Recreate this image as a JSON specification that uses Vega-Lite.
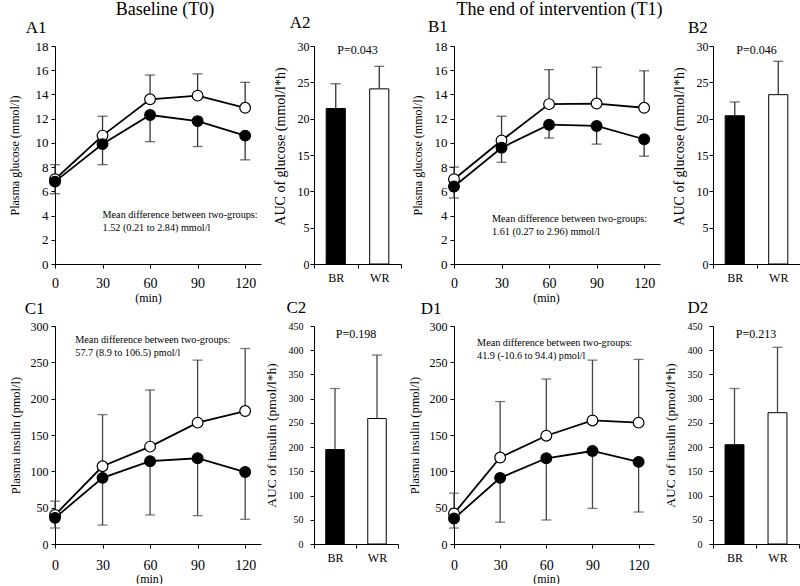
{
  "$schema": "https://vega.github.io/schema/vega-lite/v6.json",
  "padding": {"left": 8, "top": 0, "right": 0, "bottom": 0},
  "columns": 4,
  "bounds": "flush",
  "align": "each",
  "center": true,
  "spacing": {"row": 62, "column": 53},
  "datasets": {
    "profiles": [
      {"panel": "A1", "group": "WR", "time": 0, "mean": 7.0, "err": 8.2},
      {"panel": "A1", "group": "WR", "time": 30, "mean": 10.6, "err": 12.2},
      {"panel": "A1", "group": "WR", "time": 60, "mean": 13.6, "err": 15.6},
      {"panel": "A1", "group": "WR", "time": 90, "mean": 13.9, "err": 15.7},
      {"panel": "A1", "group": "WR", "time": 120, "mean": 12.9, "err": 15.0},
      {"panel": "A1", "group": "BR", "time": 0, "mean": 6.8, "err": 5.8},
      {"panel": "A1", "group": "BR", "time": 30, "mean": 9.9, "err": 8.2},
      {"panel": "A1", "group": "BR", "time": 60, "mean": 12.3, "err": 10.1},
      {"panel": "A1", "group": "BR", "time": 90, "mean": 11.8, "err": 9.7},
      {"panel": "A1", "group": "BR", "time": 120, "mean": 10.6, "err": 8.6},
      {"panel": "B1", "group": "WR", "time": 0, "mean": 7.0, "err": 8.0},
      {"panel": "B1", "group": "WR", "time": 30, "mean": 10.2, "err": 12.2},
      {"panel": "B1", "group": "WR", "time": 60, "mean": 13.2, "err": 16.05},
      {"panel": "B1", "group": "WR", "time": 90, "mean": 13.25, "err": 16.25},
      {"panel": "B1", "group": "WR", "time": 120, "mean": 12.9, "err": 15.95},
      {"panel": "B1", "group": "BR", "time": 0, "mean": 6.4, "err": 5.45},
      {"panel": "B1", "group": "BR", "time": 30, "mean": 9.6, "err": 8.4},
      {"panel": "B1", "group": "BR", "time": 60, "mean": 11.5, "err": 10.4},
      {"panel": "B1", "group": "BR", "time": 90, "mean": 11.4, "err": 9.9},
      {"panel": "B1", "group": "BR", "time": 120, "mean": 10.3, "err": 8.9},
      {"panel": "C1", "group": "WR", "time": 0, "mean": 40, "err": 59},
      {"panel": "C1", "group": "WR", "time": 30, "mean": 107, "err": 178},
      {"panel": "C1", "group": "WR", "time": 60, "mean": 134, "err": 212},
      {"panel": "C1", "group": "WR", "time": 90, "mean": 167, "err": 253},
      {"panel": "C1", "group": "WR", "time": 120, "mean": 183, "err": 269},
      {"panel": "C1", "group": "BR", "time": 0, "mean": 36, "err": 22},
      {"panel": "C1", "group": "BR", "time": 30, "mean": 91, "err": 26},
      {"panel": "C1", "group": "BR", "time": 60, "mean": 114, "err": 40},
      {"panel": "C1", "group": "BR", "time": 90, "mean": 118, "err": 39},
      {"panel": "C1", "group": "BR", "time": 120, "mean": 99, "err": 34},
      {"panel": "D1", "group": "WR", "time": 0, "mean": 42, "err": 70},
      {"panel": "D1", "group": "WR", "time": 30, "mean": 119, "err": 196},
      {"panel": "D1", "group": "WR", "time": 60, "mean": 149, "err": 227},
      {"panel": "D1", "group": "WR", "time": 90, "mean": 170, "err": 253},
      {"panel": "D1", "group": "WR", "time": 120, "mean": 167, "err": 254},
      {"panel": "D1", "group": "BR", "time": 0, "mean": 35, "err": 22},
      {"panel": "D1", "group": "BR", "time": 30, "mean": 91, "err": 30},
      {"panel": "D1", "group": "BR", "time": 60, "mean": 118, "err": 33},
      {"panel": "D1", "group": "BR", "time": 90, "mean": 128, "err": 49},
      {"panel": "D1", "group": "BR", "time": 120, "mean": 113, "err": 44}
    ],
    "auc": [
      {"panel": "A2", "group": "BR", "mean": 21.4, "err": 24.8},
      {"panel": "A2", "group": "WR", "mean": 24.1, "err": 27.2},
      {"panel": "B2", "group": "BR", "mean": 20.4, "err": 22.3},
      {"panel": "B2", "group": "WR", "mean": 23.3, "err": 27.9},
      {"panel": "C2", "group": "BR", "mean": 195, "err": 321},
      {"panel": "C2", "group": "WR", "mean": 259, "err": 390},
      {"panel": "D2", "group": "BR", "mean": 205, "err": 321},
      {"panel": "D2", "group": "WR", "mean": 271, "err": 406}
    ]
  },
  "concat": [
    {
      "width": 206, "height": 218,
      "data": {"name": "profiles"},
      "transform": [{"filter": "datum.panel == 'A1'"}],
      "layer": [
        {"mark": {"type": "rule", "color": "#333333", "strokeWidth": 1.3},
         "encoding": {
           "x": {"field": "time", "type": "quantitative", "scale": {"domain": [0, 130]}, "axis": {"values": [0, 30, 60, 90, 120], "title": "(min)", "titleFontSize": 12, "titleX": 93, "titlePadding": 2, "labelFontSize": 14, "labelPadding": 8}},
           "y": {"field": "mean", "type": "quantitative", "scale": {"domain": [0, 18]}, "axis": {"tickCount": 9, "title": "Plasma glucose (mmol/l)", "titleFontSize": 12, "titlePadding": 14, "labelFontSize": 13, "labelPadding": 3}},
           "y2": {"field": "err"}}},
        {"mark": {"type": "tick", "orient": "horizontal", "color": "#333333", "size": 10, "thickness": 1.3},
         "encoding": {"x": {"field": "time", "type": "quantitative"}, "y": {"field": "err", "type": "quantitative"}}},
        {"mark": {"type": "line", "color": "black", "strokeWidth": 1.8},
         "encoding": {"x": {"field": "time", "type": "quantitative"}, "y": {"field": "mean", "type": "quantitative"}, "detail": {"field": "group"}}},
        {"mark": {"type": "point", "filled": true, "size": 115, "stroke": "black", "strokeWidth": 1.2, "opacity": 1},
         "encoding": {"x": {"field": "time", "type": "quantitative"}, "y": {"field": "mean", "type": "quantitative"}, "fill": {"field": "group", "type": "nominal", "scale": {"domain": ["BR", "WR"], "range": ["black", "white"]}, "legend": null}}},
        {"data": {"values": [{"note": "Mean difference between two-groups:\n1.52 (0.21 to 2.84) mmol/l"}]},
         "mark": {"type": "text", "align": "left", "baseline": "middle", "fontSize": 10.2, "lineBreak": "\n", "lineHeight": 13},
         "encoding": {"x": {"datum": 30}, "y": {"datum": 4.07}, "text": {"field": "note"}}},
        {"data": {"values": [{"header": "Baseline (T0)"}]},
         "mark": {"type": "text", "align": "center", "baseline": "alphabetic", "fontSize": 18},
         "encoding": {"x": {"datum": 69.4}, "y": {"datum": 20.56}, "text": {"field": "header"}}},
        {"data": {"values": [{"label": "A1"}]},
         "mark": {"type": "text", "align": "left", "baseline": "alphabetic", "fontSize": 17},
         "encoding": {"x": {"datum": -18.5}, "y": {"datum": 19.07}, "text": {"field": "label"}}}
      ]
    },
    {
      "width": 87, "height": 218,
      "data": {"name": "auc"},
      "transform": [{"filter": "datum.panel == 'A2'"}],
      "layer": [
        {"mark": {"type": "bar", "width": {"band": 0.44}, "stroke": "black", "strokeWidth": 1},
         "encoding": {
           "x": {"field": "group", "type": "nominal", "scale": {"domain": ["BR", "WR"], "paddingInner": 0, "paddingOuter": 0}, "axis": {"title": null, "labelAngle": 0, "tickBand": "extent", "labelFontSize": 12, "labelPadding": 4}},
           "y": {"field": "mean", "type": "quantitative", "scale": {"domain": [0, 30]}, "axis": {"tickCount": 6, "title": "AUC of glucose (mmol/l*h)", "titleFontSize": 14, "titleY": 100, "titlePadding": 9.5, "labelFontSize": 12, "labelPadding": 1}},
           "fill": {"field": "group", "type": "nominal", "scale": {"domain": ["BR", "WR"], "range": ["black", "white"]}, "legend": null}}},
        {"mark": {"type": "rule", "color": "#333333", "strokeWidth": 1.3},
         "encoding": {"x": {"field": "group", "type": "nominal"}, "y": {"field": "mean", "type": "quantitative"}, "y2": {"field": "err"}}},
        {"mark": {"type": "tick", "orient": "horizontal", "color": "#333333", "size": 10, "thickness": 1.3},
         "encoding": {"x": {"field": "group", "type": "nominal"}, "y": {"field": "err", "type": "quantitative"}}},
        {"data": {"values": [{"p": "P=0.043"}]},
         "mark": {"type": "text", "fontSize": 12, "baseline": "middle"},
         "encoding": {"x": {"datum": "BR", "type": "nominal", "bandPosition": 1}, "y": {"datum": 29.5}, "text": {"field": "p"}}},
        {"data": {"values": [{"label": "A2"}]},
         "mark": {"type": "text", "align": "left", "baseline": "alphabetic", "fontSize": 17, "dx": -24.3},
         "encoding": {"x": {"datum": "BR", "type": "nominal", "bandPosition": 0}, "y": {"datum": 32.48}, "text": {"field": "label"}}}
      ]
    },
    {
      "width": 206, "height": 218,
      "data": {"name": "profiles"},
      "transform": [{"filter": "datum.panel == 'B1'"}],
      "layer": [
        {"mark": {"type": "rule", "color": "#333333", "strokeWidth": 1.3},
         "encoding": {
           "x": {"field": "time", "type": "quantitative", "scale": {"domain": [0, 130]}, "axis": {"values": [0, 30, 60, 90, 120], "title": "(min)", "titleFontSize": 12, "titleX": 92, "titlePadding": 2, "labelFontSize": 14, "labelPadding": 8}},
           "y": {"field": "mean", "type": "quantitative", "scale": {"domain": [0, 18]}, "axis": {"tickCount": 9, "title": "Plasma glucose (mmol/l)", "titleFontSize": 12, "titlePadding": 10, "labelFontSize": 13, "labelPadding": 3}},
           "y2": {"field": "err"}}},
        {"mark": {"type": "tick", "orient": "horizontal", "color": "#333333", "size": 10, "thickness": 1.3},
         "encoding": {"x": {"field": "time", "type": "quantitative"}, "y": {"field": "err", "type": "quantitative"}}},
        {"mark": {"type": "line", "color": "black", "strokeWidth": 1.8},
         "encoding": {"x": {"field": "time", "type": "quantitative"}, "y": {"field": "mean", "type": "quantitative"}, "detail": {"field": "group"}}},
        {"mark": {"type": "point", "filled": true, "size": 115, "stroke": "black", "strokeWidth": 1.2, "opacity": 1},
         "encoding": {"x": {"field": "time", "type": "quantitative"}, "y": {"field": "mean", "type": "quantitative"}, "fill": {"field": "group", "type": "nominal", "scale": {"domain": ["BR", "WR"], "range": ["black", "white"]}, "legend": null}}},
        {"data": {"values": [{"note": "Mean difference between two-groups:\n1.61 (0.27 to 2.96) mmol/l"}]},
         "mark": {"type": "text", "align": "left", "baseline": "middle", "fontSize": 10.2, "lineBreak": "\n", "lineHeight": 13},
         "encoding": {"x": {"datum": 24}, "y": {"datum": 3.7}, "text": {"field": "note"}}},
        {"data": {"values": [{"header": "The end of intervention (T1)"}]},
         "mark": {"type": "text", "align": "center", "baseline": "alphabetic", "fontSize": 18},
         "encoding": {"x": {"datum": 66.6}, "y": {"datum": 20.56}, "text": {"field": "header"}}},
        {"data": {"values": [{"label": "B1"}]},
         "mark": {"type": "text", "align": "left", "baseline": "alphabetic", "fontSize": 17},
         "encoding": {"x": {"datum": -16.4}, "y": {"datum": 19.13}, "text": {"field": "label"}}}
      ]
    },
    {
      "width": 87, "height": 218,
      "data": {"name": "auc"},
      "transform": [{"filter": "datum.panel == 'B2'"}],
      "layer": [
        {"mark": {"type": "bar", "width": {"band": 0.44}, "stroke": "black", "strokeWidth": 1},
         "encoding": {
           "x": {"field": "group", "type": "nominal", "scale": {"domain": ["BR", "WR"], "paddingInner": 0, "paddingOuter": 0}, "axis": {"title": null, "labelAngle": 0, "tickBand": "extent", "labelFontSize": 12, "labelPadding": 4}},
           "y": {"field": "mean", "type": "quantitative", "scale": {"domain": [0, 30]}, "axis": {"tickCount": 6, "title": "AUC of glucose (mmol/l*h)", "titleFontSize": 14, "titleY": 100, "titlePadding": 9.5, "labelFontSize": 12, "labelPadding": 1}},
           "fill": {"field": "group", "type": "nominal", "scale": {"domain": ["BR", "WR"], "range": ["black", "white"]}, "legend": null}}},
        {"mark": {"type": "rule", "color": "#333333", "strokeWidth": 1.3},
         "encoding": {"x": {"field": "group", "type": "nominal"}, "y": {"field": "mean", "type": "quantitative"}, "y2": {"field": "err"}}},
        {"mark": {"type": "tick", "orient": "horizontal", "color": "#333333", "size": 10, "thickness": 1.3},
         "encoding": {"x": {"field": "group", "type": "nominal"}, "y": {"field": "err", "type": "quantitative"}}},
        {"data": {"values": [{"p": "P=0.046"}]},
         "mark": {"type": "text", "fontSize": 12, "baseline": "middle"},
         "encoding": {"x": {"datum": "BR", "type": "nominal", "bandPosition": 1}, "y": {"datum": 29.5}, "text": {"field": "p"}}},
        {"data": {"values": [{"label": "B2"}]},
         "mark": {"type": "text", "align": "left", "baseline": "alphabetic", "fontSize": 17, "dx": -25},
         "encoding": {"x": {"datum": "BR", "type": "nominal", "bandPosition": 0}, "y": {"datum": 31.79}, "text": {"field": "label"}}}
      ]
    },
    {
      "width": 206, "height": 218,
      "data": {"name": "profiles"},
      "transform": [{"filter": "datum.panel == 'C1'"}],
      "layer": [
        {"mark": {"type": "rule", "color": "#444444", "strokeWidth": 1.3},
         "encoding": {
           "x": {"field": "time", "type": "quantitative", "scale": {"domain": [0, 130]}, "axis": {"values": [0, 30, 60, 90, 120], "title": "(min)", "titleFontSize": 12, "titleX": 94, "titlePadding": 1, "labelFontSize": 14, "labelPadding": 10}},
           "y": {"field": "mean", "type": "quantitative", "scale": {"domain": [0, 300]}, "axis": {"tickCount": 6, "title": "Plasma insulin (pmol/l)", "titleFontSize": 12.5, "titlePadding": 8, "labelFontSize": 12, "labelPadding": 3}},
           "y2": {"field": "err"}}},
        {"mark": {"type": "tick", "orient": "horizontal", "color": "#444444", "size": 10, "thickness": 1.3},
         "encoding": {"x": {"field": "time", "type": "quantitative"}, "y": {"field": "err", "type": "quantitative"}}},
        {"mark": {"type": "line", "color": "black", "strokeWidth": 1.8},
         "encoding": {"x": {"field": "time", "type": "quantitative"}, "y": {"field": "mean", "type": "quantitative"}, "detail": {"field": "group"}}},
        {"mark": {"type": "point", "filled": true, "size": 115, "stroke": "black", "strokeWidth": 1.2, "opacity": 1},
         "encoding": {"x": {"field": "time", "type": "quantitative"}, "y": {"field": "mean", "type": "quantitative"}, "fill": {"field": "group", "type": "nominal", "scale": {"domain": ["BR", "WR"], "range": ["black", "white"]}, "legend": null}}},
        {"data": {"values": [{"note": "Mean difference between two-groups:\n57.7 (8.9 to 106.5) pmol/l"}]},
         "mark": {"type": "text", "align": "left", "baseline": "middle", "fontSize": 10.2, "lineBreak": "\n", "lineHeight": 13},
         "encoding": {"x": {"datum": 12.8}, "y": {"datum": 281}, "text": {"field": "note"}}},
        {"data": {"values": [{"label": "C1"}]},
         "mark": {"type": "text", "align": "left", "baseline": "alphabetic", "fontSize": 17},
         "encoding": {"x": {"datum": -19.1}, "y": {"datum": 316.9}, "text": {"field": "label"}}}
      ]
    },
    {
      "width": 84, "height": 218,
      "data": {"name": "auc"},
      "transform": [{"filter": "datum.panel == 'C2'"}],
      "layer": [
        {"mark": {"type": "bar", "width": {"band": 0.44}, "stroke": "black", "strokeWidth": 1},
         "encoding": {
           "x": {"field": "group", "type": "nominal", "scale": {"domain": ["BR", "WR"], "paddingInner": 0, "paddingOuter": 0}, "axis": {"title": null, "labelAngle": 0, "tickBand": "extent", "labelFontSize": 12, "labelPadding": 4}},
           "y": {"field": "mean", "type": "quantitative", "scale": {"domain": [0, 450]}, "axis": {"tickCount": 9, "title": "AUC of insulin (pmol/l*h)", "titleFontSize": 13.5, "titlePadding": 9.5, "labelFontSize": 10, "labelPadding": 7}},
           "fill": {"field": "group", "type": "nominal", "scale": {"domain": ["BR", "WR"], "range": ["black", "white"]}, "legend": null}}},
        {"mark": {"type": "rule", "color": "#444444", "strokeWidth": 1.3},
         "encoding": {"x": {"field": "group", "type": "nominal"}, "y": {"field": "mean", "type": "quantitative"}, "y2": {"field": "err"}}},
        {"mark": {"type": "tick", "orient": "horizontal", "color": "#444444", "size": 10, "thickness": 1.3},
         "encoding": {"x": {"field": "group", "type": "nominal"}, "y": {"field": "err", "type": "quantitative"}}},
        {"data": {"values": [{"p": "P=0.198"}]},
         "mark": {"type": "text", "fontSize": 12, "baseline": "middle"},
         "encoding": {"x": {"datum": "BR", "type": "nominal", "bandPosition": 1}, "y": {"datum": 433}, "text": {"field": "p"}}},
        {"data": {"values": [{"label": "C2"}]},
         "mark": {"type": "text", "align": "left", "baseline": "alphabetic", "fontSize": 17, "dx": -27.5},
         "encoding": {"x": {"datum": "BR", "type": "nominal", "bandPosition": 0}, "y": {"datum": 476.8}, "text": {"field": "label"}}}
      ]
    },
    {
      "width": 200, "height": 218,
      "data": {"name": "profiles"},
      "transform": [{"filter": "datum.panel == 'D1'"}],
      "layer": [
        {"mark": {"type": "rule", "color": "#444444", "strokeWidth": 1.3},
         "encoding": {
           "x": {"field": "time", "type": "quantitative", "scale": {"domain": [0, 130]}, "axis": {"values": [0, 30, 60, 90, 120], "title": "(min)", "titleFontSize": 12, "titleX": 92, "titlePadding": 1, "labelFontSize": 14, "labelPadding": 10}},
           "y": {"field": "mean", "type": "quantitative", "scale": {"domain": [0, 300]}, "axis": {"tickCount": 6, "title": "Plasma insulin (pmol/l)", "titleFontSize": 12.5, "titlePadding": 8, "labelFontSize": 12, "labelPadding": 3}},
           "y2": {"field": "err"}}},
        {"mark": {"type": "tick", "orient": "horizontal", "color": "#444444", "size": 10, "thickness": 1.3},
         "encoding": {"x": {"field": "time", "type": "quantitative"}, "y": {"field": "err", "type": "quantitative"}}},
        {"mark": {"type": "line", "color": "black", "strokeWidth": 1.8},
         "encoding": {"x": {"field": "time", "type": "quantitative"}, "y": {"field": "mean", "type": "quantitative"}, "detail": {"field": "group"}}},
        {"mark": {"type": "point", "filled": true, "size": 115, "stroke": "black", "strokeWidth": 1.2, "opacity": 1},
         "encoding": {"x": {"field": "time", "type": "quantitative"}, "y": {"field": "mean", "type": "quantitative"}, "fill": {"field": "group", "type": "nominal", "scale": {"domain": ["BR", "WR"], "range": ["black", "white"]}, "legend": null}}},
        {"data": {"values": [{"note": "Mean difference between two-groups:\n41.9 (-10.6 to 94.4) pmol/l"}]},
         "mark": {"type": "text", "align": "left", "baseline": "middle", "fontSize": 10.2, "lineBreak": "\n", "lineHeight": 13},
         "encoding": {"x": {"datum": 15}, "y": {"datum": 276}, "text": {"field": "note"}}},
        {"data": {"values": [{"label": "D1"}]},
         "mark": {"type": "text", "align": "left", "baseline": "alphabetic", "fontSize": 17},
         "encoding": {"x": {"datum": -21.6}, "y": {"datum": 316.5}, "text": {"field": "label"}}}
      ]
    },
    {
      "width": 86, "height": 218,
      "data": {"name": "auc"},
      "transform": [{"filter": "datum.panel == 'D2'"}],
      "layer": [
        {"mark": {"type": "bar", "width": {"band": 0.44}, "stroke": "black", "strokeWidth": 1},
         "encoding": {
           "x": {"field": "group", "type": "nominal", "scale": {"domain": ["BR", "WR"], "paddingInner": 0, "paddingOuter": 0}, "axis": {"title": null, "labelAngle": 0, "tickBand": "extent", "labelFontSize": 12, "labelPadding": 4}},
           "y": {"field": "mean", "type": "quantitative", "scale": {"domain": [0, 450]}, "axis": {"tickCount": 9, "title": "AUC of insulin (pmol/l*h)", "titleFontSize": 13.5, "titlePadding": 9.5, "labelFontSize": 10, "labelPadding": 7}},
           "fill": {"field": "group", "type": "nominal", "scale": {"domain": ["BR", "WR"], "range": ["black", "white"]}, "legend": null}}},
        {"mark": {"type": "rule", "color": "#444444", "strokeWidth": 1.3},
         "encoding": {"x": {"field": "group", "type": "nominal"}, "y": {"field": "mean", "type": "quantitative"}, "y2": {"field": "err"}}},
        {"mark": {"type": "tick", "orient": "horizontal", "color": "#444444", "size": 10, "thickness": 1.3},
         "encoding": {"x": {"field": "group", "type": "nominal"}, "y": {"field": "err", "type": "quantitative"}}},
        {"data": {"values": [{"p": "P=0.213"}]},
         "mark": {"type": "text", "fontSize": 12, "baseline": "middle"},
         "encoding": {"x": {"datum": "BR", "type": "nominal", "bandPosition": 1}, "y": {"datum": 433}, "text": {"field": "p"}}},
        {"data": {"values": [{"label": "D2"}]},
         "mark": {"type": "text", "align": "left", "baseline": "alphabetic", "fontSize": 17, "dx": -25.5},
         "encoding": {"x": {"datum": "BR", "type": "nominal", "bandPosition": 0}, "y": {"datum": 476.8}, "text": {"field": "label"}}}
      ]
    }
  ],
  "config": {
    "font": "Liberation Serif",
    "view": {"stroke": null},
    "axis": {"grid": false, "domainColor": "black", "tickColor": "black", "labelColor": "black", "titleColor": "black", "titleFontWeight": "normal", "tickSize": 4, "labelOverlap": false, "labelSeparation": -30, "labelFlush": false, "labelFont": "Liberation Serif", "titleFont": "Liberation Serif"},
    "axisY": {"labelOverlap": false, "labelSeparation": -30},
    "axisQuantitative": {"labelOverlap": false},
    "text": {"font": "Liberation Serif", "color": "black"}
  }
}
